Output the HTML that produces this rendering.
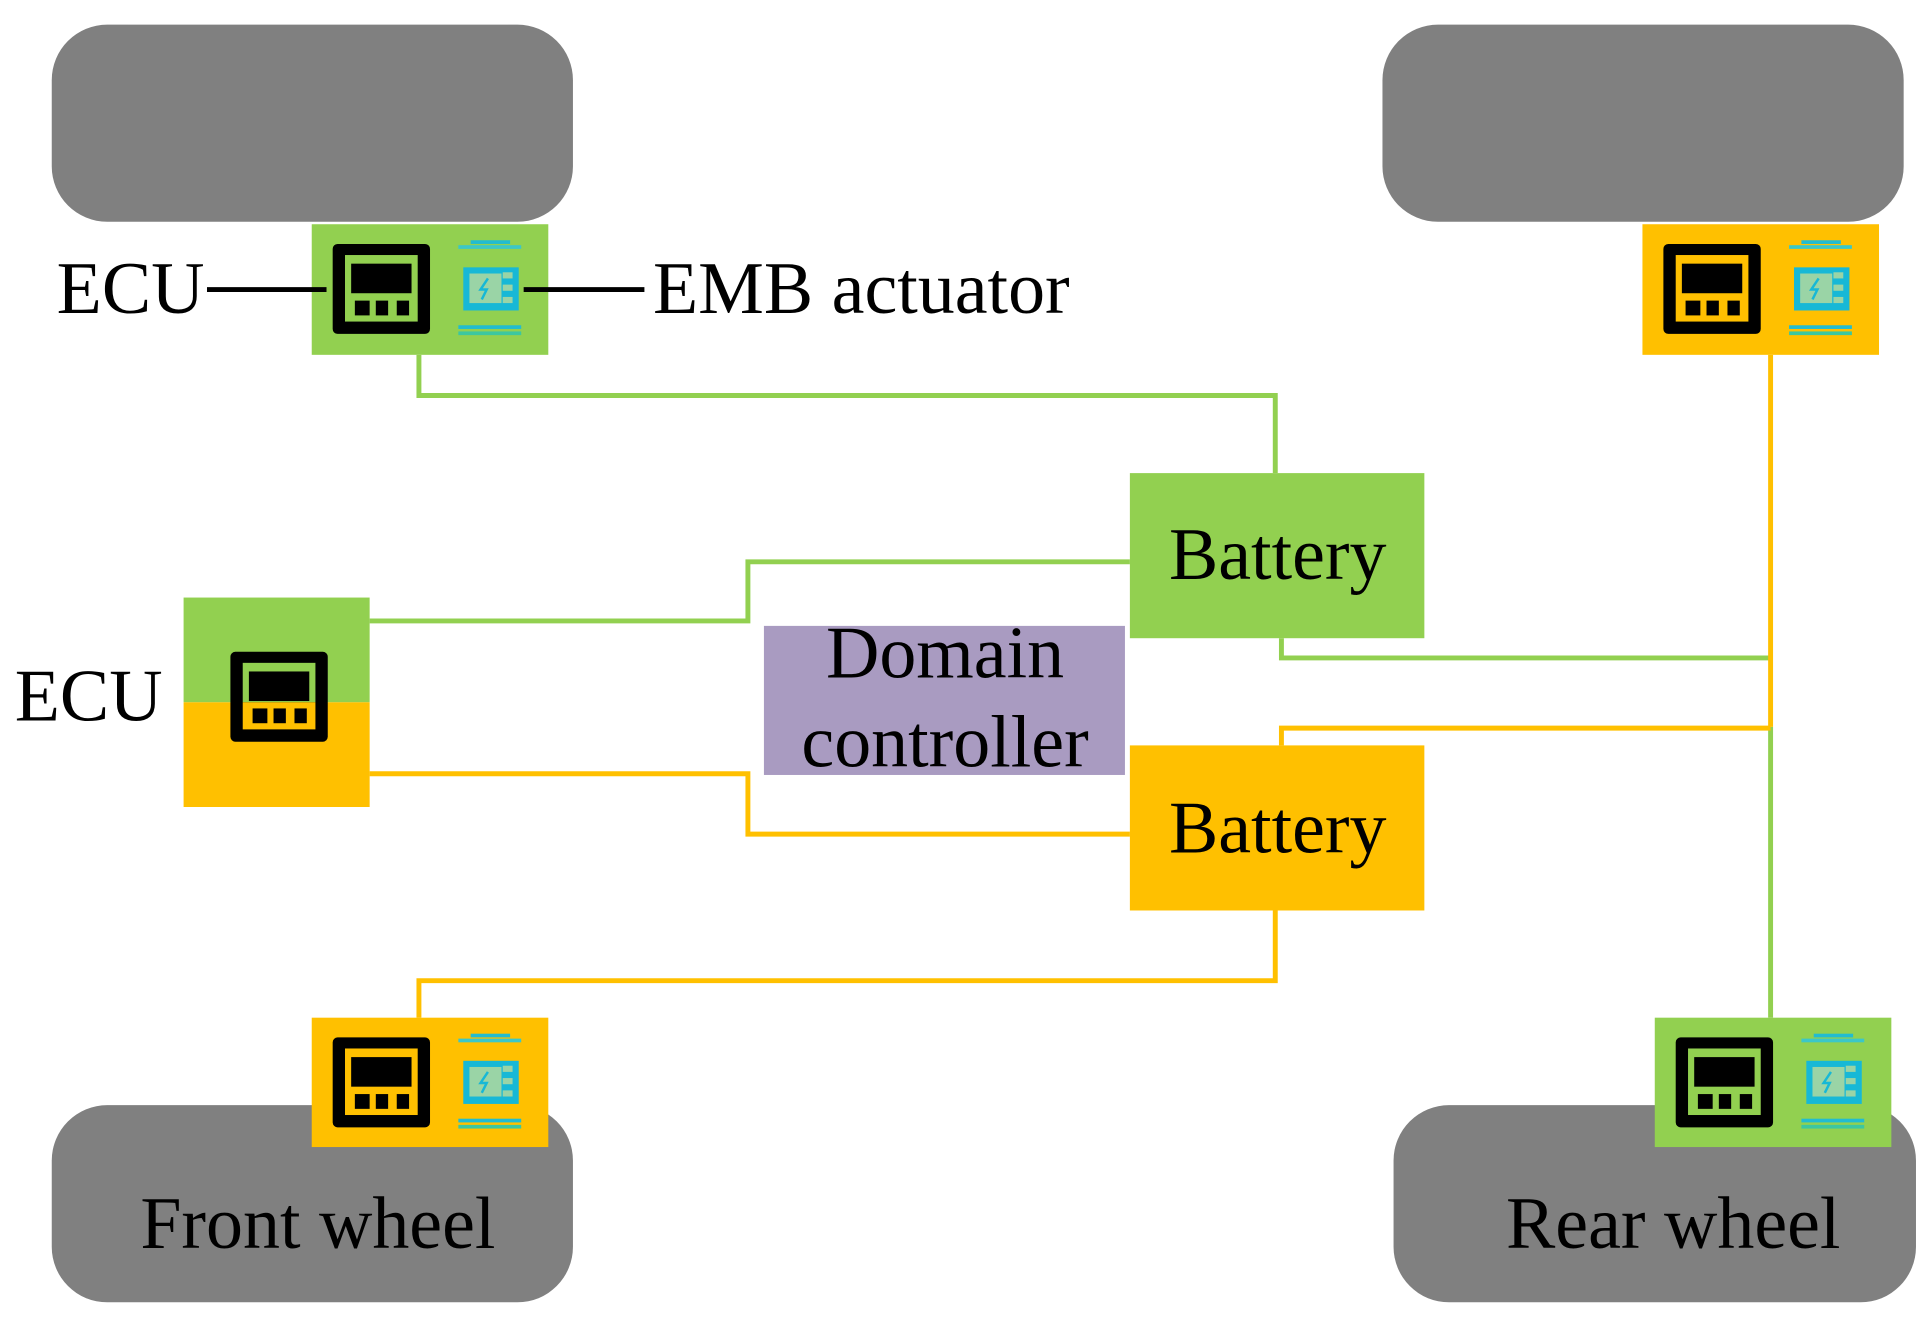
<!DOCTYPE html>
<html><head><meta charset="utf-8"><style>html,body{margin:0;padding:0;background:#fff}svg{display:block}</style></head>
<body>
<svg width="1932" height="1322" viewBox="0 0 1568 1073" preserveAspectRatio="none" xmlns="http://www.w3.org/2000/svg" font-family="Liberation Serif, serif">
<defs>
<g id="ic">
  <rect x="17" y="16" width="79" height="73" rx="4" fill="#000"/>
  <rect x="27" y="25" width="59" height="54" fill="currentColor"/>
  <rect x="32" y="32" width="49" height="24" fill="#000"/>
  <rect x="35" y="62" width="12" height="12" fill="#000"/>
  <rect x="52" y="62" width="10" height="12" fill="#000"/>
  <rect x="69" y="62" width="10" height="12" fill="#000"/>
  <rect x="119" y="17" width="51" height="3" fill="#3cc7c7"/>
  <rect x="129" y="13" width="32" height="3" fill="#22bcd0"/>
  <rect x="123" y="35" width="45" height="35" fill="#17b8d6"/>
  <rect x="128" y="40" width="26" height="24" fill="#9ad4a6"/>
  <path d="M143 44 L137 53 L142 53 L138 61" stroke="#17b8d6" stroke-width="2" fill="none"/>
  <rect x="155" y="39" width="8" height="5" fill="#9ad4a6"/>
  <rect x="155" y="49" width="8" height="5" fill="#9ad4a6"/>
  <rect x="155" y="59" width="8" height="5" fill="#9ad4a6"/>
  <rect x="119" y="82" width="51" height="3" fill="#22bcd0"/>
  <rect x="119" y="87" width="51" height="3" fill="#3cc7a0"/>
</g>
</defs>
<g fill="#808080">
<rect x="42" y="20" width="423" height="160" rx="45"/>
<rect x="1122" y="20" width="423" height="160" rx="45"/>
<rect x="42" y="897" width="423" height="160" rx="45"/>
<rect x="1131" y="897" width="424" height="160" rx="45"/>
</g>
<g fill="none" stroke-width="4">
<path d="M340 288V321H1035V384" stroke="#92d050"/>
<path d="M300 504H607V456H917" stroke="#92d050"/>
<path d="M1040 518V534H1437" stroke="#92d050"/>
<path d="M1437 590V826" stroke="#92d050"/>
<path d="M1437 288V590" stroke="#ffc000"/>
<path d="M1040 605V591H1437" stroke="#ffc000"/>
<path d="M300 628H607V677H917" stroke="#ffc000"/>
<path d="M1035 739V796H340V826" stroke="#ffc000"/>
</g>
<rect x="253" y="182" width="192" height="106" fill="#92d050"/>
<g transform="translate(253,182)" color="#92d050"><use href="#ic"/></g>
<rect x="1333" y="182" width="192" height="106" fill="#ffc000"/>
<g transform="translate(1333,182)" color="#ffc000"><use href="#ic"/></g>
<rect x="253" y="826" width="192" height="105" fill="#ffc000"/>
<g transform="translate(253,826)" color="#ffc000"><use href="#ic"/></g>
<rect x="1343" y="826" width="192" height="105" fill="#92d050"/>
<g transform="translate(1343,826)" color="#92d050"><use href="#ic"/></g>
<rect x="149" y="485" width="151" height="85" fill="#92d050"/>
<rect x="149" y="570" width="151" height="85" fill="#ffc000"/>
<rect x="187" y="529" width="79" height="73" rx="4" fill="#000"/>
<rect x="197" y="538" width="59" height="32" fill="#92d050"/>
<rect x="197" y="570" width="59" height="22" fill="#ffc000"/>
<rect x="202" y="545" width="49" height="24" fill="#000"/>
<rect x="205" y="575" width="12" height="12" fill="#000"/>
<rect x="222" y="575" width="10" height="12" fill="#000"/>
<rect x="239" y="575" width="10" height="12" fill="#000"/>
<rect x="620" y="508" width="293" height="121" fill="#a99bc1"/>
<rect x="917" y="384" width="239" height="134" fill="#92d050"/>
<rect x="917" y="605" width="239" height="134" fill="#ffc000"/>
<g stroke="#000" stroke-width="4"><path d="M168 235H265M425 235H523"/></g>
<g font-size="60" fill="#000">
<text x="46" y="254">ECU</text>
<text x="530" y="254">EMB actuator</text>
<text x="12" y="585">ECU</text>
<text x="1037" y="470" text-anchor="middle">Battery</text>
<text x="1037" y="692" text-anchor="middle">Battery</text>
<text x="767" y="550" text-anchor="middle">Domain</text>
<text x="767" y="622" text-anchor="middle">controller</text>
<text x="258" y="1013" text-anchor="middle">Front wheel</text>
<text x="1358" y="1013" text-anchor="middle">Rear wheel</text>
</g>
</svg>
</body></html>
